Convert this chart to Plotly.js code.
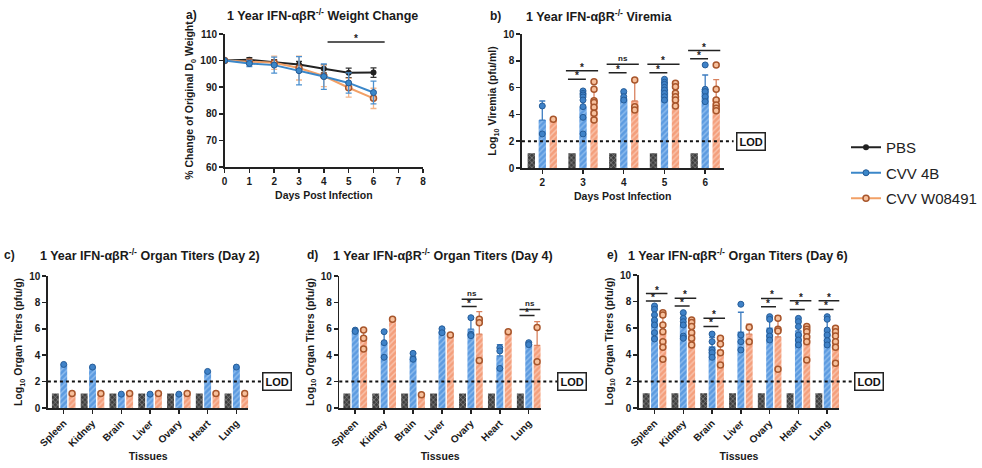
<!DOCTYPE html>
<html><head><meta charset="utf-8">
<script src="https://cdn.plot.ly/plotly-3.0.1.min.js"></script>
<style>html,body{margin:0;padding:0;background:#fff;}#chart{width:982px;height:468px;}</style>
</head><body><div id="chart"></div>
<script>
// ---------- Panel a: weight change ----------
const days = [0,1,2,3,4,5,6];
const wPBS = [100,100.3,99.4,98.5,96.9,95.4,95.5];
const wPBSsd = [0,0.8,1.0,1.2,1.5,1.8,1.8];
const w4B = [100,98.9,98.3,96.2,94.0,91.6,88.0];
const w4Bsd = [0,1.2,3.0,5.3,4.8,3.8,4.3];
const wW = [100,99.5,99.2,97.2,94.2,89.8,85.8];
const wWsd = [0,1.0,2.5,4.5,4.0,3.5,3.8];
const sigA = {x0:4.15, x1:6.45, y:107, label:'*'};

// ---------- Panel b: viremia ----------
const vDays = ['2','3','4','5','6'];
const vPBS = [1.1,1.1,1.1,1.1,1.1];
const v4Bmean = [3.58,4.55,5.2,5.85,5.87];
const v4Bsd = [1.42,1.1,0.35,0.5,1.07];
const v4Bpts = [[4.63,2.54],[5.75,5.57,5.45,5.3,5.07,4.58,3.78,2.54],[5.7,5.32,5.07],[6.62,6.4,6.24,6.02,5.82,5.57,5.32,5.07],[7.69,5.87,5.7,5.32,4.95]];
const vWmean = [3.63,4.85,5.0,5.35,5.2];
const vWsd = [0,1.0,1.6,0.6,1.4];
const vWpts = [[3.63],[6.44,5.87,5.02,4.88,4.53,4.08,3.58],[6.57,4.58,4.33],[6.32,6.07,5.57,5.32,5.07,4.63],[7.69,5.87,5.07,4.7,4.45,4.28]];
const sigBgroup = [1,2,3,4];
const sigBlow = [6.62,7.1,7.1,8.16];
const sigBlowLab = ['*','*','*','*'];
const sigBhigh = [7.26,7.74,7.74,8.76];
const sigBhighLab = ['*','ns','*','*'];

// ---------- Panels c-e: organ titers ----------
const tissues = ['Spleen','Kidney','Brain','Liver','Ovary','Heart','Lung'];
const cPBS = [1.1,1.1,1.1,1.1,1.1,1.1,1.1];
const c4Bmean = [3.3,3.1,1.05,1.05,1.05,2.77,3.1];
const c4Bpts = [[3.3],[3.1],[1.05],[1.05],[1.05],[2.77],[3.1]];
const cWmean = [1.1,1.1,1.1,1.1,1.1,1.1,1.1];
const cWpts = [[1.1],[1.1],[1.1],[1.1],[1.1],[1.1],[1.1]];

const dPBS = [1.1,1.1,1.1,1.1,1.1,1.1,1.1];
const d4Bmean = [5.85,4.9,3.9,5.85,5.97,3.95,4.87];
const d4Bsd = [0.05,0.95,0.3,0.2,0.75,0.85,0.1];
const d4Bpts = [[5.9,5.8],[5.78,4.95,3.84],[4.14,3.69],[6.0,5.7],[6.84,5.58,5.48],[4.57,4.32,3.0],[4.95,4.8]];
const dWmean = [5.2,6.72,1.0,5.53,5.59,5.78,4.75];
const dWsd = [0.72,0,0,0,1.71,0,1.8];
const dWpts = [[5.9,5.28,4.47],[6.72],[1.0],[5.53],[6.72,6.46,3.59],[5.78],[6.1,3.5]];
const sigDgroup = [4,6];
const sigDlow = [7.68,7.0];
const sigDlowLab = ['*','*'];
const sigDhigh = [8.23,7.47];
const sigDhighLab = ['ns','ns'];

const ePBS = [1.1,1.1,1.1,1.1,1.1,1.1,1.1];
const e4Bmean = [6.6,6.2,4.6,5.7,6.0,5.8,5.8];
const e4Bsd = [0.9,0.8,0.7,1.5,0.75,0.75,0.8];
const e4Bpts = [[7.67,7.42,7.0,6.62,6.24,5.66,5.19],[7.17,6.74,6.49,6.24,5.41,5.24],[5.56,4.99,4.36,4.16,3.81],[7.8,5.49,4.99,4.36],[6.87,6.67,5.79,5.41,5.11],[6.74,6.49,6.12,5.49,5.11,4.74],[6.87,6.67,5.86,5.49,5.06,4.74]];
const eWmean = [5.6,5.8,4.35,5.55,5.35,5.3,5.0];
const eWsd = [1.25,0.7,0.85,0.75,1.6,0.9,1.0];
const eWpts = [[7.17,7.0,6.24,5.74,4.99,4.56,3.66],[6.62,6.42,6.12,5.66,5.24,4.74],[5.24,4.81,4.16,3.23],[6.07,4.99],[6.74,5.92,5.79,2.91],[6.12,5.92,5.74,5.36,4.99,3.61],[6.0,5.74,5.41,4.99,4.56,3.36]];
const sigEgroup = [0,1,2,4,5,6];
const sigElow = [8.05,7.67,6.13,7.61,7.41,7.41];
const sigElowLab = ['*','*','*','*','*','*'];
const sigEhigh = [8.6,8.25,6.74,8.24,8.07,8.07];
const sigEhighLab = ['*','*','*','*','*','*'];

// ---------- styling ----------
const FONT = 'Arial, "Liberation Sans", Helvetica, sans-serif';
const W = 982, H = 468;
const px = v => v / W, py = v => 1 - v / H;
const C_PBS = '#222222', C_B = '#3b87c9', C_W = '#f2a066';
const BAR_PBS = '#3e3e3e', BAR_B = '#5d9be0', BAR_W = '#f49f7c';
const PT_B = '#3f82c8', PT_B_LINE = '#255c98', PT_W = '#f7c09c', PT_W_LINE = '#a8562c';

const traces = [];
// panel a
traces.push({type:'scatter', mode:'lines+markers', name:'PBS', x:days, y:wPBS, xaxis:'x', yaxis:'y',
  line:{color:C_PBS, width:2}, marker:{size:6, color:C_PBS},
  error_y:{type:'data', array:wPBSsd, color:'#333', thickness:1.3, width:3},
  legendgroup:'g1', legendrank:1});
traces.push({type:'scatter', mode:'lines+markers', name:'CVV W08491', x:days, y:wW, xaxis:'x', yaxis:'y',
  line:{color:C_W, width:2}, marker:{size:6, color:PT_W, line:{color:PT_W_LINE, width:1.5}},
  error_y:{type:'data', array:wWsd, color:'#f3b58a', thickness:1.3, width:3},
  legendgroup:'g3', legendrank:3});
traces.push({type:'scatter', mode:'lines+markers', name:'CVV 4B', x:days, y:w4B, xaxis:'x', yaxis:'y',
  line:{color:C_B, width:2}, marker:{size:6, color:C_B, line:{color:'#245a95', width:1}},
  error_y:{type:'data', array:w4Bsd, color:'#4b90d0', thickness:1.3, width:3},
  legendgroup:'g2', legendrank:2});

function flat(pts){const xs=[],ys=[];pts.forEach((p,i)=>p.forEach(v=>{xs.push(i);ys.push(v);}));return [xs,ys];}
function barPanel(xa, ya, pbs, bm, bsd, bpts, wm, wsd, wpts, off, w){
  const I = pbs.map((_,i)=>i);
  const zeros = pbs.map(()=>0);
  traces.push({type:'bar', x:I.map(i=>i-off), y:pbs, width:w, xaxis:xa, yaxis:ya, showlegend:false, hoverinfo:'skip',
    marker:{color:BAR_PBS, line:{width:0}, pattern:{shape:'x', fgcolor:'#9c9c9c', bgcolor:BAR_PBS, size:3.5, solidity:0.3}}});
  traces.push({type:'bar', x:I, y:bm, width:w, xaxis:xa, yaxis:ya, showlegend:false, hoverinfo:'skip',
    marker:{color:BAR_B, line:{width:0}, pattern:{shape:'/', fgcolor:'#8fbdee', bgcolor:BAR_B, size:4, solidity:0.35}},
    error_y: bsd ? {type:'data', symmetric:false, array:bsd, arrayminus:zeros, color:'#3d7cc0', thickness:1.3, width:3} : undefined});
  traces.push({type:'bar', x:I.map(i=>i+off), y:wm, width:w, xaxis:xa, yaxis:ya, showlegend:false, hoverinfo:'skip',
    marker:{color:BAR_W, line:{width:0}, pattern:{shape:'/', fgcolor:'#f9c4ad', bgcolor:BAR_W, size:4, solidity:0.35}},
    error_y: wsd ? {type:'data', symmetric:false, array:wsd, arrayminus:zeros, color:'#d9825f', thickness:1.3, width:3} : undefined});
  const [bx,by] = flat(bpts), [wx,wy] = flat(wpts);
  traces.push({type:'scatter', mode:'markers', x:bx, y:by, xaxis:xa, yaxis:ya, showlegend:false, hoverinfo:'skip',
    marker:{size:6, color:PT_B, line:{color:PT_B_LINE, width:1}}});
  traces.push({type:'scatter', mode:'markers', x:wx.map(v=>v+off), y:wy, xaxis:xa, yaxis:ya, showlegend:false, hoverinfo:'skip',
    marker:{size:6, color:PT_W, line:{color:PT_W_LINE, width:1.5}}});
}
const OFF_B = 0.27, WID_B = 0.18, OFF_O = 0.29, WID_O = 0.24;
barPanel('x2','y2', vPBS, v4Bmean, v4Bsd, v4Bpts, vWmean, vWsd, vWpts, OFF_B, WID_B);
barPanel('x3','y3', cPBS, c4Bmean, null, c4Bpts, cWmean, null, cWpts, OFF_O, WID_O);
barPanel('x4','y4', dPBS, d4Bmean, d4Bsd, d4Bpts, dWmean, dWsd, dWpts, OFF_O, WID_O);
barPanel('x5','y5', ePBS, e4Bmean, e4Bsd, e4Bpts, eWmean, eWsd, eWpts, OFF_O, WID_O);

// ---------- shapes & annotations ----------
const shapes = [], ann = [];
function txt(t, xpx, ypx, size, anchor, extra){
  ann.push(Object.assign({text:t, xref:'paper', yref:'paper', x:px(xpx), y:py(ypx), xanchor:anchor||'center', yanchor:'middle', showarrow:false,
    font:{family:FONT, size:size, weight:'bold', color:'#1a1a1a'}}, extra||{}));
}
const SUP = 'IFN-αβR<sup>-/-</sup>';
txt('a)', 184, 15, 12, 'left'); txt('1 Year '+SUP+' Weight Change', 323, 15, 12.5);
txt('b)', 489, 16, 12, 'left'); txt('1 Year '+SUP+' Viremia', 600, 16, 12.5);
txt('c)', 2, 255, 12, 'left'); txt('1 Year '+SUP+' Organ Titers (Day 2)', 150, 255, 12.5);
txt('d)', 306, 255, 12, 'left'); txt('1 Year '+SUP+' Organ Titers (Day 4)', 444, 255, 12.5);
txt('e)', 606, 255, 12, 'left'); txt('1 Year '+SUP+' Organ Titers (Day 6)', 740, 255, 12.5);

function sigLine(xa, ya, x0, x1, y, lab){
  shapes.push({type:'line', xref:xa, yref:ya, x0:x0, x1:x1, y0:y, y1:y, line:{color:'#222', width:1.5}});
  ann.push({text:lab, xref:xa, yref:ya, x:(x0+x1)/2, y:y, xanchor:'center', yanchor:'bottom', showarrow:false,
    yshift: lab==='*' ? -4 : -1, font:{family:FONT, size: lab==='*' ? 10 : 8, weight:'bold', color:'#222'}});
}
sigLine('x','y', sigA.x0, sigA.x1, sigA.y, sigA.label);
sigBgroup.forEach((g,i)=>{ sigLine('x2','y2', g-0.37, g+0.07, sigBlow[i], sigBlowLab[i]); sigLine('x2','y2', g-0.42, g+0.37, sigBhigh[i], sigBhighLab[i]); });
sigDgroup.forEach((g,i)=>{ sigLine('x4','y4', g-0.32, g+0.2, sigDlow[i], sigDlowLab[i]); sigLine('x4','y4', g-0.32, g+0.4, sigDhigh[i], sigDhighLab[i]); });
sigEgroup.forEach((g,i)=>{ sigLine('x5','y5', g-0.3, g+0.22, sigElow[i], sigElowLab[i]); sigLine('x5','y5', g-0.3, g+0.45, sigEhigh[i], sigEhighLab[i]); });

function lod(n, lineEnd, boxC){
  shapes.push({type:'line', xref:'x'+n+' domain', yref:'y'+n, x0:0, x1:lineEnd, y0:2, y1:2, line:{color:'#111', width:2, dash:'dot'}});
  ann.push({text:'LOD', xref:'x'+n+' domain', yref:'y'+n, x:boxC, y:2, xanchor:'center', yanchor:'middle', showarrow:false,
    bordercolor:'#222', borderwidth:1.5, borderpad:2, bgcolor:'#fff', font:{family:FONT, size:11, weight:'bold', color:'#111'}});
}
lod(2, 1.05, 1.135); lod(3, 1.07, 1.14); lod(4, 1.08, 1.155); lod(5, 1.07, 1.15);

// ---------- axes ----------
const tickF = {family:FONT, size:10, weight:'bold', color:'#1a1a1a'};
const titF = {family:FONT, size:10.5, weight:'bold', color:'#1a1a1a'};
function ax(extra){ return Object.assign({showline:true, linecolor:'#222', linewidth:1.5, ticks:'outside', ticklen:4, tickwidth:1.5, tickcolor:'#222',
  showgrid:false, zeroline:false, tickfont:tickF, automargin:false, fixedrange:true}, extra); }

const layout = {
  width:W, height:H, margin:{l:0,r:0,t:0,b:0}, paper_bgcolor:'#fff', plot_bgcolor:'#fff', barmode:'overlay',
  font:{family:FONT, color:'#1a1a1a'}, showlegend:true,
  legend:{x:px(848), y:py(131), xanchor:'left', yanchor:'top', font:{family:FONT, size:15, color:'#222'}, bgcolor:'rgba(0,0,0,0)',
    itemwidth:30, tracegroupgap:3, traceorder:'grouped'},
  xaxis: ax({domain:[px(225),px(424)], range:[0,8], dtick:1, anchor:'y', title:{text:'Days Post Infection', font:titF, standoff:6}}),
  yaxis: ax({domain:[py(167),py(34)], range:[60,110], dtick:10, anchor:'x', title:{text:'% Change of Original D<sub>0</sub> Weight', font:titF, standoff:4}}),
  xaxis2: ax({domain:[px(523),px(725)], range:[-0.5,4.45], tickvals:[0,1,2,3,4], ticktext:vDays, anchor:'y2', title:{text:'Days Post Infection', font:titF, standoff:6}}),
  yaxis2: ax({domain:[py(168),py(34)], range:[0,10], dtick:2, anchor:'x2', title:{text:'Log<sub>10</sub> Viremia (pfu/ml)', font:titF, standoff:4}}),
  xaxis3: ax({domain:[px(48),px(249)], range:[-0.55,6.42], tickvals:[0,1,2,3,4,5,6], ticktext:tissues, tickangle:-45, anchor:'y3', title:{text:'Tissues', font:titF, standoff:4}}),
  yaxis3: ax({domain:[py(408),py(276)], range:[0,10], dtick:2, anchor:'x3', title:{text:'Log<sub>10</sub> Organ Titers (pfu/g)', font:titF, standoff:4}}),
  xaxis4: ax({domain:[px(340),px(542)], range:[-0.55,6.42], tickvals:[0,1,2,3,4,5,6], ticktext:tissues, tickangle:-45, anchor:'y4', title:{text:'Tissues', font:titF, standoff:4}}),
  yaxis4: ax({domain:[py(408),py(276)], range:[0,10], dtick:2, anchor:'x4', title:{text:'Log<sub>10</sub> Organ Titers (pfu/g)', font:titF, standoff:4}}),
  xaxis5: ax({domain:[px(640),px(841)], range:[-0.55,6.42], tickvals:[0,1,2,3,4,5,6], ticktext:tissues, tickangle:-45, anchor:'y5', title:{text:'Tissues', font:titF, standoff:4}}),
  yaxis5: ax({domain:[py(408),py(275)], range:[0,10], dtick:2, anchor:'x5', title:{text:'Log<sub>10</sub> Organ Titers (pfu/g)', font:titF, standoff:4}}),
  shapes:shapes, annotations:ann
};
Plotly.newPlot('chart', traces, layout, {staticPlot:true, displayModeBar:false});
</script></body></html>
